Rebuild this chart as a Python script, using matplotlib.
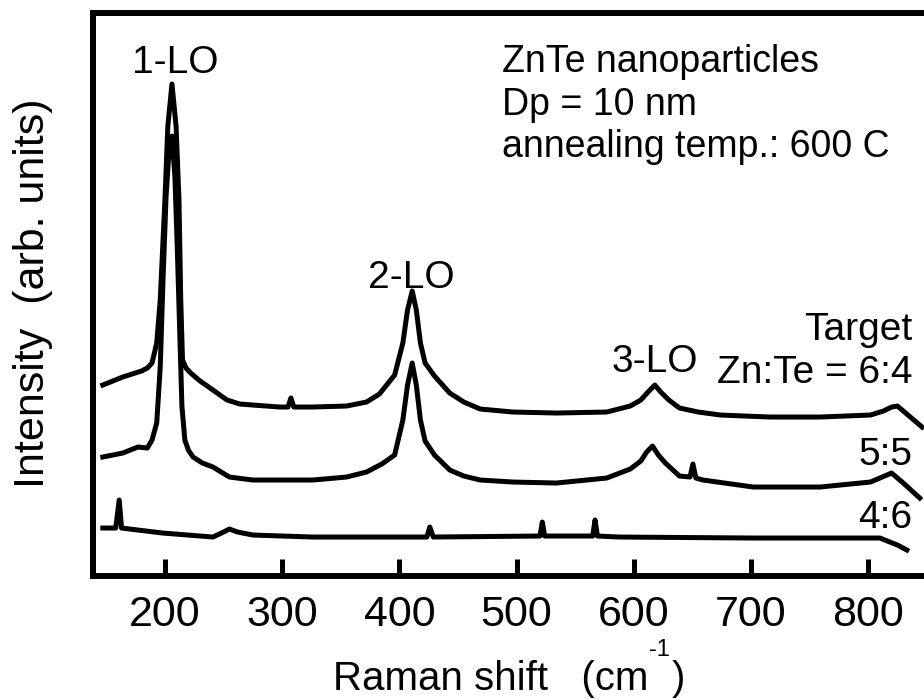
import matplotlib
matplotlib.use('Agg')
import matplotlib.pyplot as plt

plt.rcParams['font.family'] = ['Liberation Sans', 'DejaVu Sans']

# Raman shift (cm-1) and intensity (arb. units)
shift_64 = [147, 164, 180, 185, 189, 193, 196, 200, 202.5, 206, 209.5, 212, 213.5, 215,
            218, 222, 230, 241, 253, 264, 275, 298, 305, 307.5, 310, 326, 355, 372,
            383, 396, 403, 407, 411, 414.5, 418, 422, 430, 443, 455, 469, 497, 534,
            577, 597, 606, 613, 618, 623, 630, 639, 655, 674, 716, 759, 802, 813,
            820, 825, 836, 846]
int_64 = [191, 199, 205, 208, 213, 233, 276, 376, 450, 492, 450, 376, 276, 216,
          208, 203, 195, 186, 176, 172, 171, 169, 169, 178, 169, 169, 170, 174,
          182, 201, 233, 266, 285, 266, 233, 213, 200, 183, 174, 167, 164, 163,
          164, 170, 176, 185, 191, 184, 176, 168, 164, 161, 159, 159, 161, 165,
          169, 170, 159, 149]

shift_55 = [147, 164, 177, 185, 189, 193, 196, 198.5, 201, 203.5, 206, 208.5, 210.5,
            212.5, 214.5, 217, 220, 224, 232, 241, 255, 275, 298, 326, 355, 372, 385,
            396, 403, 407, 411, 414.5, 418, 422, 430, 443, 455, 469, 497, 534, 577,
            597, 606, 611, 616, 621, 627, 639, 648, 650.5, 653, 659, 702, 759, 802,
            812, 820, 830, 844]
int_55 = [119, 123, 129, 128, 136, 153, 209, 300, 380, 425, 440, 400, 330,
          250, 170, 136, 126, 119, 113, 109, 99, 96, 96, 96, 99, 104, 112,
          121, 156, 191, 213, 191, 156, 135, 121, 106, 100, 96, 94, 93, 98,
          107, 115, 124, 130, 121, 113, 100, 99, 112, 98, 96, 89, 89, 94,
          99, 103, 93, 78]

shift_46 = [147, 158, 161, 163, 198, 241, 250, 255, 262, 275, 326, 383, 423.5, 426,
            429, 520, 522, 524, 565, 567, 569, 588, 702, 810, 825, 833]
int_46 = [48, 48, 76, 48, 43, 39, 44, 47, 44, 41, 39, 39, 39, 49,
          39, 40, 54, 40, 40, 56, 40, 39, 38, 38, 31, 26]

xticks = [200, 300, 400, 500, 600, 700, 800]

fig = plt.figure(figsize=(9.24, 7), dpi=100)
ax = fig.add_axes([0.1006, 0.1771, 0.9658, 0.8043])

for s, i in [(shift_64, int_64), (shift_55, int_55), (shift_46, int_46)]:
    ax.plot(s, i, color='black', lw=3.6, solid_joinstyle='round')

ax.set_xlim(138.6, 900)
ax.set_ylim(0, 563)
ax.set_xticks(xticks)
ax.set_yticks([])
ax.tick_params(axis='x', direction='in', length=12, width=3.6, labelsize=31, pad=14)
for sp in ax.spines.values():
    sp.set_linewidth(4.3)

# peak labels
ax.text(208.5, 503, '1-LO', fontsize=28, ha='center', va='baseline')
ax.text(410, 288, '2-LO', fontsize=28, ha='center', va='baseline')
ax.text(618, 204, '3-LO', fontsize=28, ha='center', va='baseline')

# sample labels
ax.text(838, 236, 'Target', fontsize=28, ha='right', va='baseline')
ax.text(838, 193, 'Zn:Te = 6:4', fontsize=28, ha='right', va='baseline')
ax.text(838, 111, '5:5', fontsize=28, ha='right', va='baseline')
ax.text(838, 48, '4:6', fontsize=28, ha='right', va='baseline')

ax.text(488, 504, 'ZnTe nanoparticles', fontsize=27, ha='left', va='baseline')
ax.text(488, 461, 'Dp = 10 nm', fontsize=27, ha='left', va='baseline')
ax.text(488, 419, 'annealing temp.: 600 C', fontsize=27, ha='left', va='baseline')

# x label with a plain hyphen in the superscript
fig.canvas.draw()
r = fig.canvas.get_renderer()
t1 = fig.text(333 / 924, 10 / 700, 'Raman shift   (cm', fontsize=29,
              ha='left', va='baseline')
x1 = t1.get_window_extent(r).x1
t2 = fig.text((x1 + 1) / 924, 44 / 700, '-1', fontsize=17, ha='left', va='baseline')
x2 = t2.get_window_extent(r).x1
fig.text((x2 + 1) / 924, 10 / 700, ')', fontsize=29, ha='left', va='baseline')

fig.text(0.036, 0.581, 'Intensity  (arb. units)', fontsize=31, rotation=90,
         ha='center', va='center')

fig.savefig('out.png', dpi=100)
